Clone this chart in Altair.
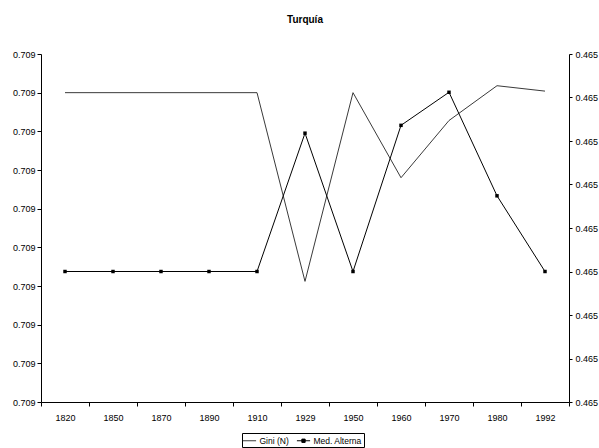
import altair as alt
import pandas as pd

# Series by census year
years = ["1820", "1850", "1870", "1890", "1910", "1929", "1950", "1960", "1970", "1980", "1992"]
gini_n = [0.70920, 0.70920, 0.70920, 0.70920, 0.70920, 0.708956, 0.70920, 0.70909, 0.709164, 0.709209, 0.709202]
med_alterna = [0.46495, 0.46495, 0.46495, 0.46495, 0.46495, 0.465109, 0.46495, 0.465118, 0.465156, 0.465037, 0.46495]

# Axis tick values (left: Gini, right: Med. Alterna)
left_ticks = [0.70880, 0.70885, 0.70890, 0.70895, 0.70900, 0.70905, 0.70910, 0.70915, 0.70920, 0.70925]
right_ticks = [0.46480, 0.46485, 0.46490, 0.46495, 0.46500, 0.46505, 0.46510, 0.46515, 0.46520]

series_names = ["Gini (N)", "Med. Alterna"]
series_colors = ["#3a3a3a", "#000000"]

df = pd.DataFrame({"year": years, "gini": gini_n, "med": med_alterna})
legend_df = pd.DataFrame({"series": series_names})

FONT = "Liberation Sans"

x_enc = alt.X(
    "year:O",
    sort=years,
    title=None,
    bandPosition=0.5,
    scale=alt.Scale(type="band", paddingInner=0, paddingOuter=0),
    axis=alt.Axis(
        labelAngle=0, tickBand="extent", tickSize=4, labelPadding=7,
        domainColor="black", tickColor="black", labelColor="black",
        labelFontSize=9, labelFont=FONT, grid=False,
    ),
)

gini_line = alt.Chart(df).mark_line(strokeWidth=1, color=series_colors[0]).encode(
    x=x_enc,
    y=alt.Y(
        "gini:Q",
        title=None,
        scale=alt.Scale(domain=[left_ticks[0], left_ticks[-1]], zero=False, nice=False),
        axis=alt.Axis(
            orient="left", values=left_ticks, format=".3f", grid=False,
            tickSize=4, labelPadding=2, domainColor="black", tickColor="black",
            labelColor="black", labelFontSize=9, labelFont=FONT,
        ),
    ),
)

med_line = alt.Chart(df).mark_line(
    strokeWidth=1,
    color=series_colors[1],
    point=alt.OverlayMarkDef(shape="square", filled=True, size=12, opacity=1, color=series_colors[1]),
).encode(
    x=x_enc,
    y=alt.Y(
        "med:Q",
        title=None,
        scale=alt.Scale(domain=[right_ticks[0], right_ticks[-1]], zero=False, nice=False),
        axis=alt.Axis(
            orient="right", values=right_ticks, format=".3f", grid=False,
            tickSize=3, labelPadding=3, domainColor="black", tickColor="black",
            labelColor="black", labelFontSize=9, labelFont=FONT,
        ),
    ),
)

# Legend-only layer: plain stroke for Gini, stroke with a filled square for Med. Alterna
line_symbol = "M-1.2,0H1.2"
line_square_symbol = "M-1.2,0H1.2M-0.3,-0.3H0.3V0.3H-0.3Z"

legend = alt.Legend(
    title=None,
    orient="none",
    legendX=201,
    legendY=379,
    direction="horizontal",
    strokeColor="black",
    padding=1.5,
    symbolSize=121,
    symbolStrokeWidth=1,
    symbolOpacity=1,
    labelFontSize=8.5,
    labelFont=FONT,
    labelColor="black",
    labelOffset=4,
    columnPadding=5,
)

legend_layer = alt.Chart(legend_df).mark_point(filled=False).encode(
    color=alt.Color("series:N", scale=alt.Scale(domain=series_names, range=series_colors), legend=legend),
    fill=alt.Fill("series:N", scale=alt.Scale(domain=series_names, range=["transparent", "black"]), legend=legend),
    shape=alt.Shape("series:N", scale=alt.Scale(domain=series_names, range=[line_symbol, line_square_symbol]), legend=legend),
).transform_filter(alt.datum.series == "")

chart = (
    alt.layer(gini_line, med_line, legend_layer)
    .resolve_scale(y="independent")
    .properties(
        width=528,
        height=348,
        background="white",
        autosize=alt.AutoSizeParams(type="none"),
        padding={"left": 41, "top": 54, "right": 30, "bottom": 46},
        title=alt.Title("Turquía", fontSize=10, fontWeight="bold", font=FONT, color="black", offset=25),
    )
    .configure_axis(grid=False)
    .configure_view(stroke="transparent", strokeWidth=0)
)

chart.save("out.html", embed_options={"renderer": "svg", "actions": False})
